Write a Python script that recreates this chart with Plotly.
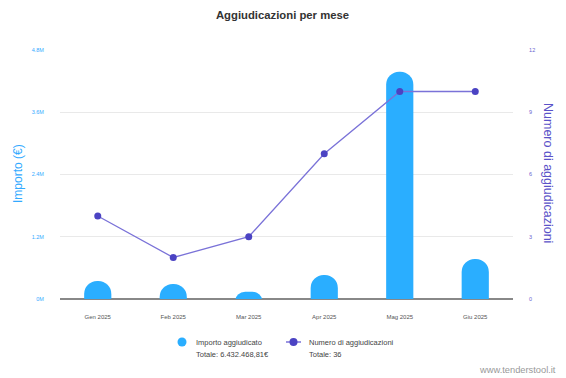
import plotly.graph_objects as go

months = ["Gen 2025", "Feb 2025", "Mar 2025", "Apr 2025", "Mag 2025", "Giu 2025"]
importo = [347000, 289000, 141000, 463000, 4380000, 772000]
numero = [4, 2, 3, 7, 10, 10]
left_ticks = [0, 1200000, 2400000, 3600000, 4800000]
left_ticktext = ["0M", "1.2M", "2.4M", "3.6M", "4.8M"]
right_ticks = [0, 3, 6, 9, 12]
legend_labels = ["Importo aggiudicato", "Numero di aggiudicazioni"]
legend_totals = ["Totale: 6.432.468,81€", "Totale: 36"]

BAR = "#2aaeff"
LINE = "#7a72d8"
MARK = "#4b43c3"
FONT = "Liberation Sans, Arial, sans-serif"

# page has an 8px body margin: lay the figure out in page coordinates minus that offset
OFF = 8
PW, PHT = 566, 378
W, H = PW - OFF, PHT - OFF
PL, PR, PT, PB = 60, 513, 50, 299  # plot box in page pixels
L, R, T, B = PL - OFF, PW - PR, PT - OFF, PHT - PB
PLOT_H = PB - PT
YMAX = 4800000
# bars start slightly below the baseline (hidden by the plot clip) so short bars show a round dome
CAP = 13.5 * YMAX / PLOT_H

fig = go.Figure()
fig.add_trace(go.Bar(x=months, y=[v + CAP for v in importo], base=[-CAP] * len(importo),
                     marker=dict(color=BAR, cornerradius="50%", line=dict(width=0)),
                     width=0.36, showlegend=False, yaxis="y", customdata=importo,
                     hovertemplate="%{x}: %{customdata:,.2f}€<extra></extra>"))
fig.add_trace(go.Scatter(x=months, y=numero, mode="lines+markers", yaxis="y2",
                         line=dict(color=LINE, width=1.3), marker=dict(color=MARK, size=7),
                         showlegend=False))

fig.update_layout(
    width=W, height=H,
    margin=dict(l=L, r=R, t=T, b=B, autoexpand=False),
    paper_bgcolor="white", plot_bgcolor="white",
    font=dict(family=FONT, color="#444"),
    showlegend=False,
    title=dict(text="<b>Aggiudicazioni per mese</b>", x=(282.5 - OFF) / W, xanchor="center",
               y=1 - (15.5 - OFF) / H, yanchor="middle",
               font=dict(size=11.3, color="#333", family=FONT)),
    xaxis=dict(showgrid=False, ticks="outside", ticklen=12, tickcolor="rgba(0,0,0,0)",
               tickfont=dict(size=6, color="#555"), showline=False, zeroline=False, automargin=False),
    yaxis=dict(range=[0, YMAX], tickvals=left_ticks, ticktext=left_ticktext,
               tickfont=dict(size=5.5, color="#33aaff"), ticks="outside", ticklen=14,
               tickcolor="rgba(0,0,0,0)", gridcolor="#e9e9e9", gridwidth=1,
               zeroline=True, zerolinecolor="#888", zerolinewidth=1.5, automargin=False),
    yaxis2=dict(range=[0, 12], tickvals=right_ticks, overlaying="y", side="right",
                tickfont=dict(size=5.5, color="#6a63d0"), ticks="outside", ticklen=14,
                tickcolor="rgba(0,0,0,0)", showgrid=False, zeroline=False, automargin=False),
)

def px_x(x):
    return (x - PL) / (PR - PL)

def px_y(y):
    return (PB - y) / PLOT_H

# axis titles
fig.add_annotation(text="Importo (€)", xref="paper", yref="paper", x=px_x(18), y=px_y(174),
                   textangle=-90, showarrow=False, xanchor="center", yanchor="middle",
                   font=dict(size=12, color="#33aaff", family=FONT))
fig.add_annotation(text="Numero di aggiudicazioni", xref="paper", yref="paper", x=px_x(548), y=px_y(173),
                   textangle=90, showarrow=False, xanchor="center", yanchor="middle",
                   font=dict(size=12.5, color="#5a52c8", family=FONT))

# legend (manual)
fig.add_shape(type="circle", xref="paper", yref="paper", x0=px_x(177.5), x1=px_x(186.5),
              y0=px_y(337.5), y1=px_y(346.5), fillcolor=BAR, line=dict(width=0))
fig.add_shape(type="line", xref="paper", yref="paper", x0=px_x(286), x1=px_x(301),
              y0=px_y(342), y1=px_y(342), line=dict(color=LINE, width=1.5))
fig.add_shape(type="circle", xref="paper", yref="paper", x0=px_x(289.5), x1=px_x(297.5),
              y0=px_y(338), y1=px_y(346), fillcolor=MARK, line=dict(width=0))
for xpos, lab, tot in zip([194, 307], legend_labels, legend_totals):
    fig.add_annotation(text=lab, xref="paper", yref="paper", x=px_x(xpos), y=px_y(342),
                       xanchor="left", yanchor="middle", showarrow=False,
                       font=dict(size=7.5, color="#444", family=FONT))
    fig.add_annotation(text=tot, xref="paper", yref="paper", x=px_x(xpos), y=px_y(354.5),
                       xanchor="left", yanchor="middle", showarrow=False,
                       font=dict(size=7.5, color="#444", family=FONT))

fig.add_annotation(text="www.tenderstool.it", xref="paper", yref="paper", x=px_x(558), y=px_y(370),
                   xanchor="right", yanchor="middle", showarrow=False,
                   font=dict(size=9.3, color="#999", family=FONT))

fig.write_html("out.html")
